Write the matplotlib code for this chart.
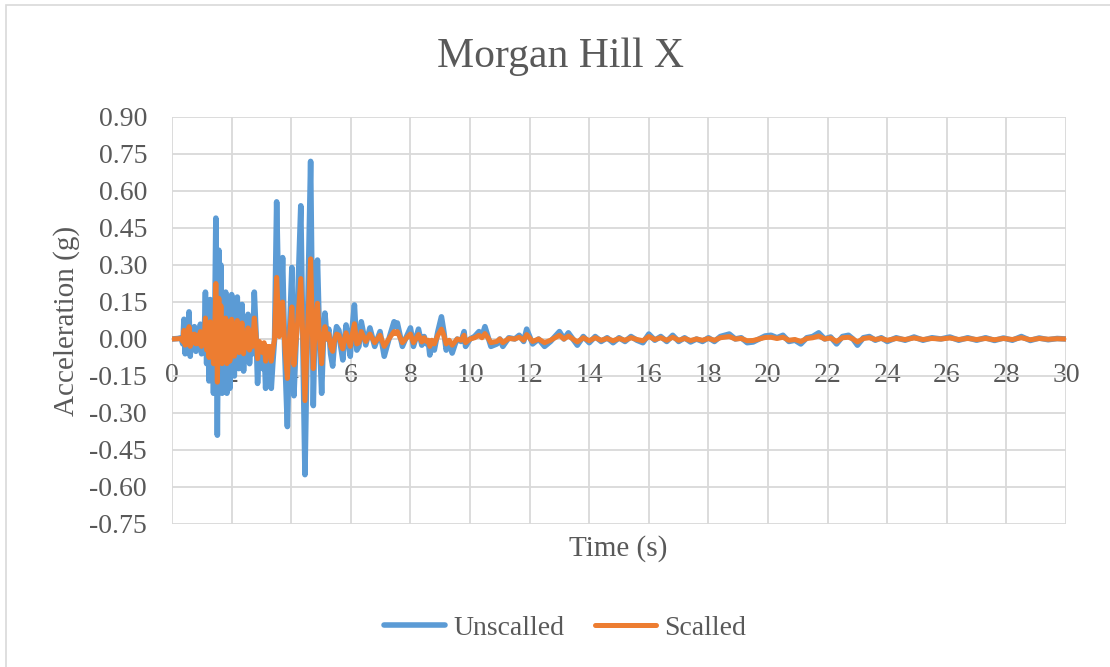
import numpy as np
import matplotlib
matplotlib.use("Agg")
import matplotlib.pyplot as plt
from matplotlib.patches import Rectangle

plt.rcParams['font.family'] = ['Liberation Serif', 'DejaVu Serif']
plt.rcParams['axes.unicode_minus'] = False

# time (s)
time = [
    0.00, 0.20, 0.30, 0.36, 0.40, 0.44, 0.48, 0.52,
    0.57, 0.61, 0.66, 0.70, 0.75, 0.80, 0.85, 0.90,
    0.95, 0.99, 1.03, 1.07, 1.12, 1.16, 1.20, 1.24,
    1.28, 1.32, 1.36, 1.39, 1.44, 1.47, 1.52, 1.57,
    1.61, 1.64, 1.68, 1.72, 1.76, 1.80, 1.84, 1.89,
    1.94, 2.00, 2.05, 2.09, 2.14, 2.19, 2.24, 2.29,
    2.35, 2.40, 2.45, 2.50, 2.55, 2.60, 2.65, 2.70,
    2.76, 2.82, 2.87, 2.93, 2.98, 3.04, 3.09, 3.14,
    3.19, 3.24, 3.28, 3.33, 3.38, 3.44, 3.51, 3.60,
    3.66, 3.71, 3.78, 3.87, 3.95, 4.02, 4.09, 4.20,
    4.32, 4.40, 4.46, 4.55, 4.65, 4.74, 4.80, 4.88,
    4.95, 5.02, 5.08, 5.13, 5.20, 5.26, 5.32, 5.39,
    5.46, 5.52, 5.60, 5.66, 5.73, 5.79, 5.84, 5.91,
    5.98, 6.05, 6.12, 6.20, 6.27, 6.35, 6.50, 6.64,
    6.80, 6.98, 7.12, 7.30, 7.45, 7.50, 7.56, 7.73,
    7.85, 8.00, 8.10, 8.27, 8.38, 8.46, 8.54, 8.60,
    8.65, 8.72, 8.80, 8.92, 9.04, 9.12, 9.20, 9.30,
    9.40, 9.50, 9.57, 9.70, 9.80, 9.85, 10.00, 10.15,
    10.30, 10.40, 10.50, 10.60, 10.70, 10.90, 11.00, 11.10,
    11.30, 11.50, 11.65, 11.80, 11.90, 12.10, 12.30, 12.50,
    12.70, 12.85, 13.00, 13.15, 13.30, 13.45, 13.60, 13.80,
    14.00, 14.20, 14.40, 14.60, 14.80, 15.00, 15.20, 15.40,
    15.60, 15.80, 16.00, 16.20, 16.40, 16.60, 16.80, 17.00,
    17.20, 17.40, 17.60, 17.80, 18.00, 18.20, 18.40, 18.70,
    18.90, 19.10, 19.30, 19.50, 19.70, 19.90, 20.10, 20.30,
    20.50, 20.70, 20.90, 21.10, 21.30, 21.50, 21.70, 21.90,
    22.10, 22.30, 22.50, 22.70, 22.85, 23.00, 23.20, 23.40,
    23.60, 23.80, 24.00, 24.30, 24.60, 24.90, 25.20, 25.50,
    25.80, 26.10, 26.40, 26.70, 27.00, 27.30, 27.60, 27.90,
    28.20, 28.50, 28.80, 29.10, 29.40, 29.70, 30.00,
]

# acceleration (g), unscaled record
unscalled = [
    0.000, 0.002, 0.005, -0.02, 0.08, -0.06, 0.07, -0.04,
    0.11, -0.07, 0.04, -0.03, 0.05, -0.05, 0.03, -0.04,
    0.06, -0.06, 0.03, -0.04, 0.19, -0.10, 0.12, -0.17,
    0.16, -0.12, 0.05, -0.22, 0.15, 0.49, -0.39, 0.36,
    -0.10, 0.30, -0.22, 0.12, -0.08, 0.19, -0.22, 0.16,
    -0.20, 0.18, -0.06, -0.15, 0.10, 0.17, -0.12, 0.08,
    0.14, -0.13, 0.05, -0.08, 0.10, -0.10, 0.02, -0.06,
    0.19, 0.02, -0.18, -0.02, -0.05, -0.12, -0.03, -0.20,
    -0.06, -0.10, -0.06, -0.20, -0.10, 0.00, 0.556, 0.02,
    0.12, 0.33, -0.05, -0.355, 0.05, 0.29, -0.23, 0.10,
    0.54, -0.10, -0.55, 0.10, 0.72, -0.27, 0.10, 0.32,
    0.00, -0.22, 0.00, 0.105, 0.00, 0.04, -0.06, -0.11,
    0.00, 0.05, 0.035, -0.03, -0.085, 0.00, 0.057, 0.00,
    -0.07, 0.05, 0.138, -0.045, -0.03, 0.07, -0.024, 0.045,
    -0.03, 0.03, -0.07, 0.01, 0.07, 0.05, 0.065, -0.03,
    0.005, 0.045, -0.03, 0.04, -0.025, 0.01, -0.02, -0.01,
    -0.065, -0.01, -0.045, 0.03, 0.09, 0.03, -0.045, -0.01,
    -0.057, -0.02, 0.00, -0.01, 0.03, -0.03, 0.00, 0.01,
    0.03, 0.01, 0.05, 0.01, -0.03, -0.02, 0.00, -0.03,
    0.005, 0.00, 0.015, -0.01, 0.04, -0.02, 0.00, -0.03,
    -0.01, 0.01, 0.03, 0.00, 0.025, 0.00, -0.025, 0.01,
    -0.015, 0.01, -0.01, 0.005, -0.015, 0.005, -0.01, 0.01,
    -0.005, -0.015, 0.02, -0.005, 0.01, -0.01, 0.015, -0.01,
    0.005, -0.012, 0.00, -0.01, 0.005, -0.01, 0.01, 0.02,
    0.00, 0.005, -0.015, -0.012, 0.00, 0.012, 0.015, 0.005,
    0.015, -0.01, -0.005, -0.02, 0.005, 0.01, 0.025, 0.00,
    0.008, -0.02, 0.01, 0.015, 0.00, -0.025, 0.005, 0.01,
    -0.005, 0.005, -0.01, 0.005, -0.005, 0.008, -0.005, 0.005,
    0.00, 0.008, -0.005, 0.005, -0.005, 0.005, -0.006, 0.004,
    -0.005, 0.01, -0.006, 0.004, -0.003, 0.002, 0.00,
]

# acceleration (g), scaled record
scalled = [
    0.000, 0.001, 0.002, -0.01, 0.035, -0.025, 0.03, -0.02,
    0.05, -0.03, 0.02, -0.015, 0.02, -0.02, 0.015, -0.02,
    0.03, -0.03, 0.015, -0.02, 0.085, -0.045, 0.055, -0.075,
    0.07, -0.055, 0.02, -0.10, 0.07, 0.225, -0.175, 0.165,
    -0.045, 0.135, -0.10, 0.055, -0.035, 0.085, -0.10, 0.07,
    -0.09, 0.08, -0.03, -0.07, 0.045, 0.075, -0.055, 0.035,
    0.065, -0.06, 0.02, -0.035, 0.045, -0.045, 0.01, -0.03,
    0.085, 0.01, -0.08, -0.01, -0.025, -0.055, -0.015, -0.09,
    -0.03, -0.045, -0.03, -0.09, -0.045, 0.00, 0.25, 0.01,
    0.055, 0.15, -0.02, -0.16, 0.02, 0.13, -0.105, 0.045,
    0.245, -0.045, -0.25, 0.045, 0.325, -0.12, 0.045, 0.145,
    0.00, -0.10, 0.00, 0.05, 0.00, 0.02, -0.03, -0.05,
    0.00, 0.02, 0.015, -0.015, -0.04, 0.00, 0.025, 0.00,
    -0.03, 0.02, 0.062, -0.02, -0.015, 0.03, -0.01, 0.02,
    -0.015, 0.015, -0.03, 0.005, 0.03, 0.022, 0.03, -0.015,
    0.002, 0.02, -0.015, 0.018, -0.012, 0.005, -0.01, -0.005,
    -0.03, -0.005, -0.02, 0.015, 0.04, 0.015, -0.02, -0.005,
    -0.025, -0.01, 0.00, -0.005, 0.015, -0.015, 0.00, 0.005,
    0.015, 0.005, 0.022, 0.005, -0.015, -0.01, 0.00, -0.015,
    0.002, 0.00, 0.007, -0.005, 0.018, -0.01, 0.00, -0.015,
    -0.005, 0.005, 0.015, 0.00, 0.012, 0.00, -0.012, 0.005,
    -0.007, 0.005, -0.005, 0.002, -0.007, 0.002, -0.005, 0.005,
    -0.002, -0.007, 0.01, -0.002, 0.005, -0.005, 0.007, -0.005,
    0.002, -0.006, 0.00, -0.005, 0.002, -0.005, 0.005, 0.01,
    0.00, 0.002, -0.007, -0.006, 0.00, 0.006, 0.007, 0.002,
    0.007, -0.005, -0.002, -0.01, 0.002, 0.005, 0.012, 0.00,
    0.004, -0.01, 0.005, 0.007, 0.00, -0.012, 0.002, 0.005,
    -0.002, 0.002, -0.005, 0.002, -0.002, 0.004, -0.002, 0.002,
    0.00, 0.004, -0.002, 0.002, -0.002, 0.002, -0.003, 0.002,
    -0.002, 0.005, -0.003, 0.002, -0.001, 0.001, 0.00,
]

x_ticks = np.arange(0, 31, 2)
y_ticks = np.arange(-0.75, 0.91, 0.15)

grey_txt = '#595959'
grid_col = '#D9D9D9'

fig = plt.figure(figsize=(11.1, 6.67), dpi=100)
fig.patches.append(Rectangle((0.0054, -0.1), 1.1, 1.0925, transform=fig.transFigure,
                             fill=False, edgecolor=grid_col, lw=1.2))

ax = fig.add_axes([0.155, 0.2144, 0.8054, 0.6102])
ax.plot(time, unscalled, color='#5B9BD5', lw=4.0, solid_joinstyle='round',
        solid_capstyle='round', label='Unscalled', zorder=3)
ax.plot(time, scalled, color='#ED7D31', lw=3.6, solid_joinstyle='round',
        solid_capstyle='round', label='Scalled', zorder=4)

ax.set_xlim(0, 30)
ax.set_ylim(-0.75, 0.90)
ax.set_xticks(x_ticks)
ax.set_yticks(y_ticks)
ax.set_yticklabels([f'{v:.2f}' for v in y_ticks])
ax.grid(True, color=grid_col, lw=1.3, zorder=0)

for s in ['top', 'right', 'left']:
    ax.spines[s].set_visible(False)
ax.spines['bottom'].set_position(('data', 0))
ax.spines['bottom'].set_color(grid_col)
ax.spines['bottom'].set_linewidth(1.3)
ax.tick_params(axis='x', length=0, pad=17, labelsize=20, labelcolor=grey_txt)
ax.tick_params(axis='y', length=0, pad=18, labelsize=20, labelcolor=grey_txt)

fig.text(0.505, 0.915, 'Morgan Hill X', ha='center', va='center', fontsize=30, color=grey_txt)
fig.text(0.557, 0.177, 'Time (s)', ha='center', va='center', fontsize=21, color=grey_txt)
fig.text(0.0595, 0.5195, 'Acceleration (g)', ha='center', va='center', rotation=90,
         fontsize=21, color=grey_txt)

leg = fig.legend(loc='center', bbox_to_anchor=(0.509, 0.058), ncol=2, frameon=False,
                 fontsize=20, handlelength=2.2, handletextpad=0.3, columnspacing=1.1)
for t in leg.get_texts():
    t.set_color(grey_txt)

fig.savefig('out.png', dpi=100)
